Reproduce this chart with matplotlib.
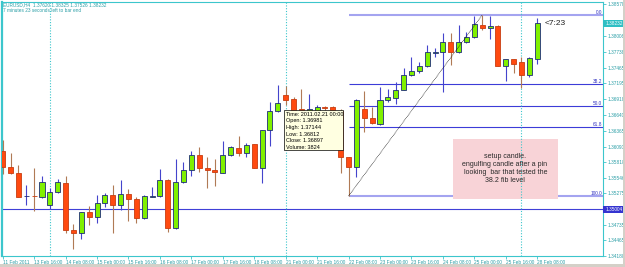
import matplotlib
matplotlib.use("Agg")
import matplotlib.pyplot as plt
import matplotlib.transforms as mtransforms
from matplotlib.patches import Rectangle
import numpy as np

plt.rcParams["font.family"] = ["Liberation Sans", "DejaVu Sans"]

# ---------------------------------------------------------------------------
# Data: EURUSD H4 candles, 11 Feb 2011 -> 28 Feb 2011 08:00
# ---------------------------------------------------------------------------
opens = [1.36019, 1.35731, 1.35626, 1.35228, 1.35240, 1.35219, 1.35070, 1.35301,
         1.35452, 1.34640, 1.34583, 1.34948, 1.34872, 1.35105, 1.35244, 1.35070,
         1.35266, 1.35179, 1.34854, 1.35221, 1.35232, 1.35505, 1.34670, 1.35470,
         1.35678, 1.35939, 1.35724, 1.35678, 1.35626, 1.35939, 1.36071, 1.35979,
         1.36131, 1.35713, 1.36379, 1.36704, 1.36981, 1.36913, 1.36736, 1.36605,
         1.36657, 1.36774, 1.36774, 1.36709, 1.35904, 1.35731, 1.36744, 1.36583,
         1.36484, 1.36901, 1.36941, 1.37075, 1.37341, 1.37405, 1.37492, 1.37725,
         1.37730, 1.37904, 1.37730, 1.37915, 1.37991, 1.38205, 1.38149, 1.38193,
         1.37497, 1.37608, 1.37567, 1.37336, 1.37620]
highs = [1.36205, 1.35985, 1.35771, 1.35418, 1.35718, 1.35579, 1.35366, 1.35527,
         1.35579, 1.34745, 1.34959, 1.35058, 1.35249, 1.35279, 1.35423, 1.35510,
         1.35353, 1.35209, 1.35249, 1.35388, 1.35701, 1.35519, 1.35880, 1.35828,
         1.36014, 1.36092, 1.35915, 1.35875, 1.36188, 1.36101, 1.36275, 1.36158,
         1.36136, 1.36379, 1.36871, 1.37156, 1.37144, 1.36953, 1.37092, 1.37005,
         1.36814, 1.36805, 1.36805, 1.36744, 1.35918, 1.36913, 1.37063, 1.36774,
         1.37122, 1.37087, 1.37209, 1.37452, 1.37654, 1.37567, 1.37857, 1.37800,
         1.38061, 1.38071, 1.38205, 1.38088, 1.38370, 1.38379, 1.38361, 1.38200,
         1.37614, 1.37614, 1.37643, 1.37643, 1.38325]
lows = [1.35614, 1.35606, 1.35209, 1.35080, 1.34971, 1.35192, 1.35000, 1.35279,
        1.34594, 1.34305, 1.34489, 1.34727, 1.34767, 1.35040, 1.34594, 1.34983,
        1.34797, 1.34757, 1.34826, 1.35214, 1.35219, 1.34611, 1.34653, 1.35452,
        1.35585, 1.35649, 1.35366, 1.35405, 1.35626, 1.35922, 1.35932, 1.35915,
        1.35710, 1.35452, 1.36101, 1.36697, 1.36812, 1.36675, 1.36588, 1.36553,
        1.36623, 1.36692, 1.36675, 1.35637, 1.35231, 1.35557, 1.36350, 1.36484,
        1.36466, 1.36861, 1.36826, 1.37075, 1.37318, 1.37376, 1.37480, 1.37643,
        1.37045, 1.37509, 1.37723, 1.37887, 1.37974, 1.38118, 1.37956, 1.37492,
        1.37237, 1.37365, 1.37104, 1.37296, 1.37526]
closes = [1.35731, 1.35626, 1.35219, 1.35240, 1.35228, 1.35470, 1.35301, 1.35470,
          1.34640, 1.34583, 1.34948, 1.34872, 1.35115, 1.35244, 1.35070, 1.35272,
          1.35174, 1.34854, 1.35226, 1.35232, 1.35505, 1.34670, 1.35470, 1.35678,
          1.35939, 1.35713, 1.35684, 1.35644, 1.35939, 1.36078, 1.35974, 1.36124,
          1.35713, 1.36379, 1.36709, 1.36854, 1.36897, 1.36715, 1.36718, 1.36744,
          1.36779, 1.36762, 1.36715, 1.35904, 1.35731, 1.36901, 1.36583, 1.36496,
          1.36901, 1.36958, 1.37075, 1.37341, 1.37410, 1.37492, 1.37730, 1.37735,
          1.37904, 1.37730, 1.37915, 1.37991, 1.38217, 1.38158, 1.38193, 1.37497,
          1.37608, 1.37527, 1.37336, 1.37626, 1.38232]

time_labels = ["11 Feb 2011", "13 Feb 16:00", "14 Feb 08:00", "15 Feb 00:00",
               "15 Feb 16:00", "16 Feb 08:00", "17 Feb 00:00", "17 Feb 16:00",
               "18 Feb 08:00", "21 Feb 00:00", "21 Feb 16:00", "22 Feb 08:00",
               "23 Feb 00:00", "23 Feb 16:00", "24 Feb 08:00", "25 Feb 00:00",
               "25 Feb 16:00", "28 Feb 08:00"]
week_start_bars = [6, 36, 66]

# 1.35004 is shown by the horizontal-line label, so it is not repeated here
price_ticks = [1.38570, 1.38008, 1.37738, 1.37465, 1.37195, 1.36918, 1.36640,
               1.36365, 1.36090, 1.35818, 1.35546, 1.35275, 1.34735,
               1.34465, 1.34188]

hline_price = 1.35004
fib_from_bar, fib_to_bar = 44, 61
fib_levels = [0.0, 38.2, 50.0, 61.8, 100.0]

tooltip_bar = 36
tooltip_volume = 3824
header = "EURUSD,H4  1.37620 1.38325 1.37526 1.38232"
timer_text = "<7:23"
note_text = ("setup candle.\nengulfing candle after a pin\n"
             " looking  bar that tested the\n38.2 fib level")

# ---------------------------------------------------------------------------
# Colours
# ---------------------------------------------------------------------------
CYAN = "#3cc6cc"
TEAL_TXT = "#2a9ea6"
BULL_FILL, BULL_EDGE, BULL_WICK = "#80f000", "#1e2c78", "#4444cc"
BEAR_FILL, BEAR_EDGE, BEAR_WICK = "#ff4a10", "#c83c10", "#b07a55"

W, H = 625, 267
fig = plt.figure(figsize=(W / 100, H / 100), dpi=100)
fig.patch.set_facecolor("white")
ax = fig.add_axes([2 / W, 11 / H, 601 / W, 254 / H])
ax.set_facecolor("white")

n = len(opens)
idx = np.arange(n)
o, hi, lo, c = map(np.array, (opens, highs, lows, closes))
up = c >= o

# wicks
ax.vlines(idx[up], lo[up], hi[up], color=BULL_WICK, lw=0.8, zorder=3)
ax.vlines(idx[~up], lo[~up], hi[~up], color=BEAR_WICK, lw=0.8, zorder=3)

# bodies
body_w = 0.64
bottom = np.minimum(o, c)
height = np.maximum(np.abs(c - o), 0.00012)
ax.bar(idx[up], height[up], bottom=bottom[up], width=body_w,
       color=BULL_FILL, edgecolor=BULL_EDGE, linewidth=0.6, zorder=4)
ax.bar(idx[~up], height[~up], bottom=bottom[~up], width=body_w,
       color=BEAR_FILL, edgecolor=BEAR_EDGE, linewidth=0.6, zorder=4)

# period separators
for b in week_start_bars:
    ax.axvline(b, color=CYAN, lw=0.8, ls=(0, (1, 1.5)), zorder=2.5)

# horizontal line
ax.axhline(hline_price, color="#4040d8", lw=0.8, zorder=2)

# fibonacci retracement
fib_hi = hi[fib_to_bar]
fib_lo = lo[fib_from_bar]
ax.plot([fib_from_bar, fib_to_bar], [fib_lo, fib_hi], color="black",
        lw=0.5, ls=(0, (1, 1)), zorder=5)
blend = mtransforms.blended_transform_factory(ax.transAxes, ax.transData)
for lev in fib_levels:
    p = fib_hi - (fib_hi - fib_lo) * lev / 100
    edge = lev in (0.0, 100.0)
    ax.hlines(p, fib_from_bar, 80, color="#a4a4f0" if edge else "#3c3cd8",
              lw=1.5 if edge else 0.8, zorder=1.5)
    ax.text(0.998, p, f"{lev:.1f}", transform=blend, ha="right", va="bottom",
            fontsize=3.4, color="#3030c0", zorder=6)

# axes limits & styling
ax.set_xlim(-0.09, 76.37)
ax.set_ylim(1.34188, 1.38605)
for s in ax.spines.values():
    s.set_color(CYAN)
    s.set_linewidth(0.8)
ax.spines["left"].set_linewidth(1.6)

ax.set_xticks(np.arange(0, n, 4))
ax.set_xticklabels(time_labels, ha="left", fontsize=3.4, color=TEAL_TXT)
ax.yaxis.tick_right()
ax.set_yticks(price_ticks)
ax.set_yticklabels([f"{p:.5f}" for p in price_ticks], fontsize=3.4, color=TEAL_TXT)
ax.tick_params(axis="x", length=2, width=0.6, color=CYAN, pad=1)
ax.tick_params(axis="y", length=2, width=0.6, color=CYAN, pad=1.5)

# price highlight labels on the axis
for price, face, txt in [(closes[-1], "#2fbfc4", "white"), (hline_price, "#3434d0", "white")]:
    ax.add_patch(Rectangle((1.0, price - 0.00062), 21 / 601, 0.00124,
                           transform=blend, facecolor=face, edgecolor="none",
                           clip_on=False, zorder=7))
    ax.text(1.0 + 2.5 / 601, price, f"{price:.5f}", transform=blend, ha="left",
            va="center", fontsize=3.4, color=txt, clip_on=False, zorder=8)

# countdown text next to the current bar
ax.text(n, closes[-1], timer_text, ha="left", va="center", fontsize=6, color="#202020")

# header
fig.text(3 / W, 1 - 5 / H, header, fontsize=3.4, color=TEAL_TXT, va="center")
fig.text(3 / W, 1 - 11 / H, "7 minutes 23 seconds left to bar end",
         fontsize=3.4, color=TEAL_TXT, va="center")

# note box
ax.add_patch(Rectangle((452.7 / W, 1 - 199 / H), 105 / W, 60 / H,
                       transform=fig.transFigure, facecolor="#f8d3d7",
                       edgecolor="none", zorder=2))
ax.text(505 / W, 1 - 168.5 / H, note_text, transform=fig.transFigure,
        ha="center", va="center", fontsize=5, color="#2a2a2a",
        linespacing=1.25, zorder=2.6)

# data window tooltip
ax.add_patch(Rectangle((284 / W, 1 - 150 / H), 59 / W, 40 / H,
                       transform=fig.transFigure, facecolor="#ffffe1",
                       edgecolor="black", lw=0.5, zorder=10))
tip = [
    "Time: 2011.02.21 00:00",
    f"Open: {opens[tooltip_bar]:.5f}",
    f"High: {highs[tooltip_bar]:.5f}",
    f"Low: {lows[tooltip_bar]:.5f}",
    f"Close: {closes[tooltip_bar]:.5f}",
    f"Volume: {tooltip_volume}",
]
for k, line in enumerate(tip):
    ax.text(286 / W, 1 - (114.3 + 6.6 * k) / H, line, transform=fig.transFigure,
            ha="left", va="center", fontsize=4, color="black", zorder=11)

# window frame
fig.add_artist(Rectangle((623 / W, 0), 2 / W, 1, transform=fig.transFigure,
                         facecolor="#d4d0c8", edgecolor="none"))
fig.add_artist(Rectangle((0, 0), 1, 3 / H, transform=fig.transFigure,
                         facecolor="#d4d0c8", edgecolor="none"))

fig.savefig("out.png", dpi=100)
plt.close(fig)
